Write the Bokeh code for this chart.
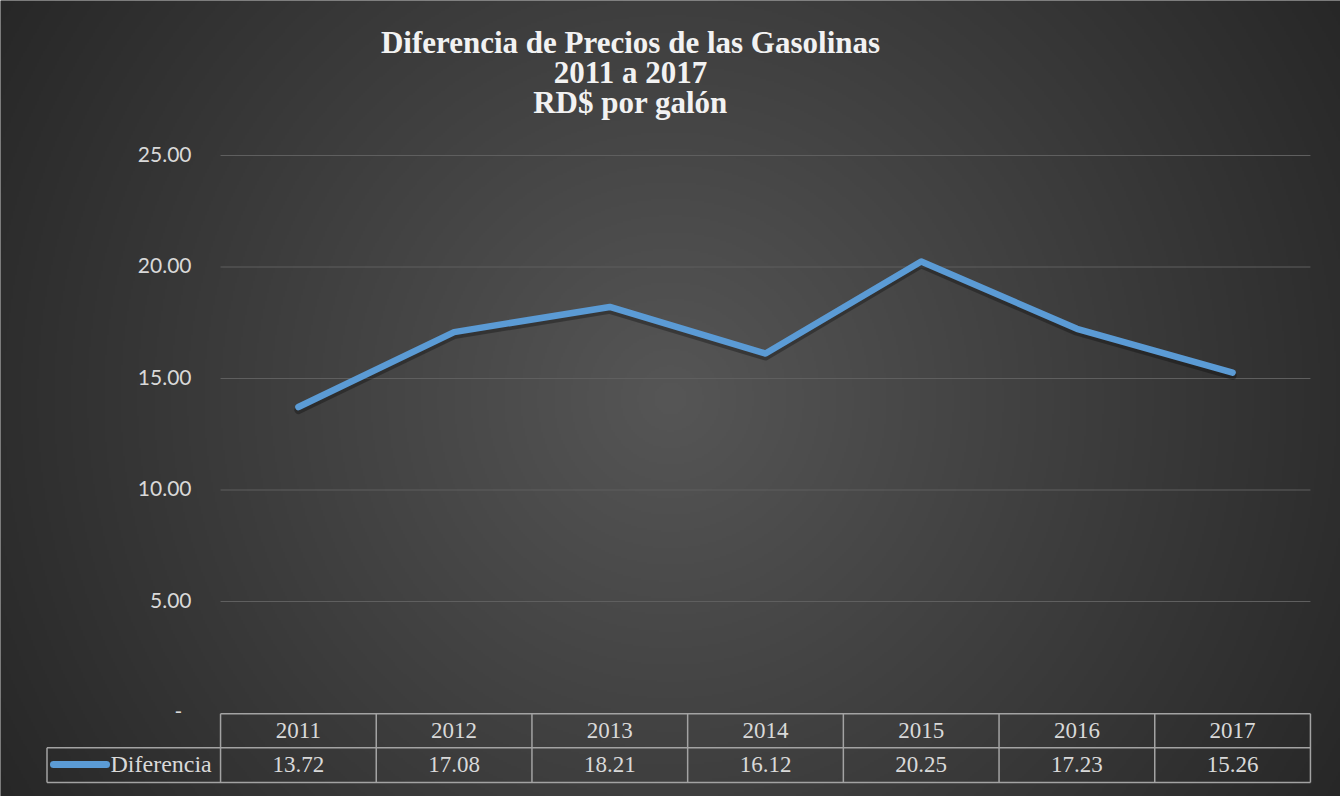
import numpy as np
from bokeh.plotting import figure
from bokeh.models import Range1d
from bokeh.core.properties import value
from bokeh.embed import file_html
from bokeh.resources import INLINE

# ---------------- data ----------------
years = ["2011", "2012", "2013", "2014", "2015", "2016", "2017"]
diferencia = [13.72, 17.08, 18.21, 16.12, 20.25, 17.23, 15.26]
y_ticks = [5, 10, 15, 20, 25]
y_tick_labels = ["5.00", "10.00", "15.00", "20.00", "25.00"]
zero_label = "-"
title_lines = ["Diferencia de Precios de las Gasolinas", "2011 a 2017", "RD$ por galón"]
series_name = "Diferencia"

# ---------------- layout (pixels) ----------------
W, H = 1340, 796
COL_W = 155.7          # width of one category column
X_FIRST = 297.9        # pixel centre of first category
PX_PER_UNIT = 22.3     # pixels per y unit
Y_ZERO = 712.5         # pixel row of y = 0

x0 = -X_FIRST / COL_W
x1 = x0 + W / COL_W
y1 = Y_ZERO / PX_PER_UNIT
y0 = y1 - H / PX_PER_UNIT


def X(px):
    return x0 + px / COL_W


def Y(py):
    return y1 - py / PX_PER_UNIT


BLUE = "#5b9bd5"
TXT = "#d9d9d9"
BORDER = "#a3a3a3"

p = figure(width=W, height=H, x_range=Range1d(x0, x1), y_range=Range1d(y0, y1),
           output_backend="svg", toolbar_location=None, min_border=0,
           x_axis_location=None, y_axis_location=None)
p.grid.visible = False
p.outline_line_color = None
p.background_fill_color = "#333333"
p.border_fill_color = "#333333"

# ---------------- radial gradient background ----------------
gh, gw = H // 2, W // 2
PXg, PYg = np.meshgrid((np.arange(gw) + 0.5) * 2, (np.arange(gh) + 0.5) * 2)
dist = np.hypot(PXg - 670, PYg - 398)
v = np.clip(86 - 0.06 * dist, 0, 255).astype(np.uint8)
img = np.empty((gh, gw), dtype=np.uint32)
view = img.view(np.uint8).reshape(gh, gw, 4)
view[..., 0] = v
view[..., 1] = v
view[..., 2] = v
view[..., 3] = 255
img = np.ascontiguousarray(img[::-1])
p.image_rgba(image=[img], x=x0, y=y0, dw=x1 - x0, dh=y1 - y0)

# ---------------- gridlines ----------------
n = len(years)
left_edge = -0.5
right_edge = n - 0.5
p.segment(x0=[left_edge] * len(y_ticks), y0=y_ticks, x1=[right_edge] * len(y_ticks), y1=y_ticks,
          line_color="#5f5f5f", line_width=1)

# ---------------- y tick labels ----------------
p.text(x=[X(191)] * len(y_ticks), y=y_ticks, text=y_tick_labels, text_align="right",
       text_baseline="middle", y_offset=-1.5, text_font=value("Lato"), text_font_size="21px",
       text_color=TXT)
p.text(x=[X(178)], y=[0], text=[zero_label], text_align="center", text_baseline="middle",
       y_offset=-1.5, text_font=value("Lato"), text_font_size="21px", text_color=TXT)

# ---------------- title ----------------
for line, base in zip(title_lines, [42, 72, 102]):
    p.text(x=[X(630)], y=[Y(base)], text=[line], text_align="center", text_baseline="alphabetic",
           text_font=value("Liberation Serif"), text_font_style="bold", text_font_size="31px",
           text_color="#f2f2f2")

# ---------------- data line ----------------
xs = list(range(n))
shadow_y = [d - 3 / PX_PER_UNIT for d in diferencia]
p.line(x=xs, y=shadow_y, line_color="black", line_alpha=0.3, line_width=8,
       line_cap="round", line_join="round")
p.line(x=xs, y=diferencia, line_color=BLUE, line_width=6.5, line_cap="round", line_join="round")

# ---------------- data table ----------------
top, mid, bot = Y(713.3), Y(747.3), Y(782)
leg_left = X(46.5)
hx0 = [left_edge, leg_left, leg_left]
hx1 = [right_edge, right_edge, right_edge]
hy = [top, mid, bot]
p.segment(x0=hx0, y0=hy, x1=hx1, y1=hy, line_color=BORDER, line_width=1.5)
vx = [k - 0.5 for k in range(n + 1)]
p.segment(x0=vx, y0=[top] * len(vx), x1=vx, y1=[bot] * len(vx), line_color=BORDER, line_width=1.5)
p.segment(x0=[leg_left], y0=[mid], x1=[leg_left], y1=[bot], line_color=BORDER, line_width=1.5)

p.text(x=xs, y=[Y(729.5)] * n, text=years, text_align="center", text_baseline="alphabetic",
       text_font=value("Liberation Serif"), text_font_size="23px", text_color=TXT)
p.text(x=xs, y=[Y(764)] * n, text=[f"{d:.2f}" for d in diferencia], text_align="center",
       text_baseline="alphabetic", text_font=value("Liberation Serif"), text_font_size="23px",
       text_color=TXT)

# legend key inside table
p.segment(x0=[X(53)], y0=[Y(764)], x1=[X(106)], y1=[Y(764)], line_color=BLUE, line_width=7,
          line_cap="round")
p.text(x=[X(110)], y=[Y(763.5)], text=[series_name], text_align="left", text_baseline="alphabetic",
       text_font=value("Liberation Serif"), text_font_size="24px", text_color=TXT)

html = file_html(p, INLINE)
html = html.replace("<head>", "<head>\n<style>html,body{margin:0;padding:0;overflow:hidden;}</style>", 1)
open("out.html", "w").write(html)
